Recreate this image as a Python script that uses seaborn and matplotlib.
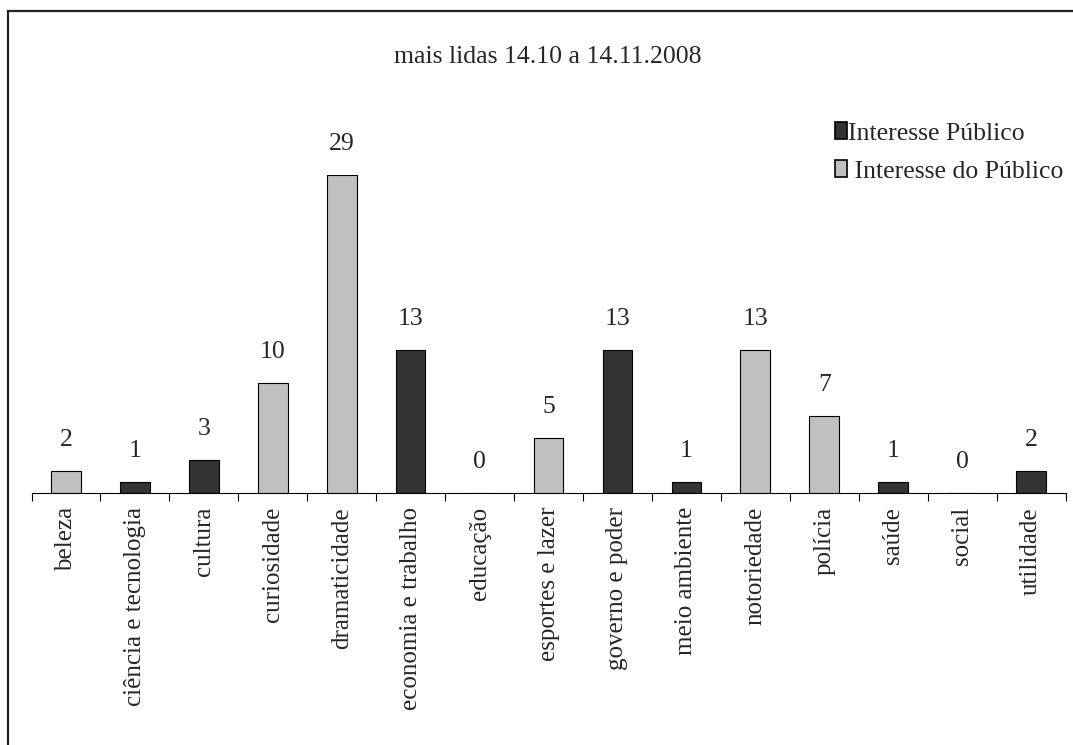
import matplotlib
matplotlib.use("Agg")
import matplotlib.pyplot as plt
import seaborn as sns
import pandas as pd
from matplotlib.patches import Patch, Rectangle

categories = ["beleza", "ciência e tecnologia", "cultura", "curiosidade", "dramaticidade",
              "economia e trabalho", "educação", "esportes e lazer", "governo e poder",
              "meio ambiente", "notoriedade", "polícia", "saúde", "social", "utilidade"]
values = [2, 1, 3, 10, 29, 13, 0, 5, 13, 1, 13, 7, 1, 0, 2]
groups = ["Interesse do Público", "Interesse Público", "Interesse Público", "Interesse do Público",
          "Interesse do Público", "Interesse Público", "Interesse Público", "Interesse do Público",
          "Interesse Público", "Interesse Público", "Interesse do Público", "Interesse do Público",
          "Interesse Público", "Interesse Público", "Interesse Público"]
legend_labels = ["Interesse Público", " Interesse do Público"]
title = "mais lidas 14.10 a 14.11.2008"

sns.set_theme(style="white")
plt.rcParams["font.family"] = ["Liberation Serif", "DejaVu Serif"]

W, H = 1073, 745
FS = 18.5
fig = plt.figure(figsize=(W / 100, H / 100), dpi=100)
ax_left, ax_right = 31.5, 1065.5
base_y, top_y = 493, 175
ax = fig.add_axes([ax_left / W, (H - base_y) / H, (ax_right - ax_left) / W, (base_y - top_y) / H])

colors = {"Interesse Público": "#333333", "Interesse do Público": "#C0C0C0"}
df = pd.DataFrame({"categoria": categories, "valor": values, "grupo": groups})
sns.barplot(data=df, x="categoria", y="valor", hue="grupo", dodge=False, palette=colors,
            edgecolor="black", linewidth=0.8, width=0.43, legend=False, ax=ax,
            order=categories)

ax.set_xlim(-0.5, len(categories) - 0.5)
ax.set_ylim(0, 29)
for i, v in enumerate(values):
    ax.annotate(str(v), (i, v), xytext=(0, 31), textcoords="offset pixels",
                ha="center", va="center", fontsize=FS, clip_on=False)

ax.set_xticks([i - 0.5 for i in range(len(categories) + 1)])
ax.set_xticklabels([])
ax.set_xticks(range(len(categories)), minor=True)
ax.set_xticklabels(categories, minor=True, rotation=90, fontsize=18)
ax.tick_params(axis="x", which="major", direction="out", length=6, width=0.8, color="black", bottom=True)
ax.tick_params(axis="x", which="minor", length=0, pad=10)
ax.set_yticks([])
ax.set_xlabel("")
ax.set_ylabel("")
for s in ["top", "right", "left"]:
    ax.spines[s].set_visible(False)
ax.spines["bottom"].set_color("black")
ax.spines["bottom"].set_linewidth(0.8)

fig.text(548 / W, 1 - 57 / H, title, ha="center", va="center", fontsize=FS)

handles = [Patch(facecolor=colors["Interesse Público"], edgecolor="black", linewidth=1.2),
           Patch(facecolor=colors["Interesse do Público"], edgecolor="black", linewidth=1.2)]
fig.legend(handles=handles, labels=legend_labels, loc="upper left",
           bbox_to_anchor=(835 / W, 1 - 122 / H), frameon=False,
           fontsize=FS, handlelength=0.47, handleheight=0.66, handletextpad=0.05,
           labelspacing=0.6, borderaxespad=0, borderpad=0)

fig.patches.append(Rectangle((8 / W, -0.1), 1.2, 1 - 11 / H + 0.1, transform=fig.transFigure,
                             fill=False, edgecolor="#222222", linewidth=1.6))

fig.savefig("out.png", dpi=100)
